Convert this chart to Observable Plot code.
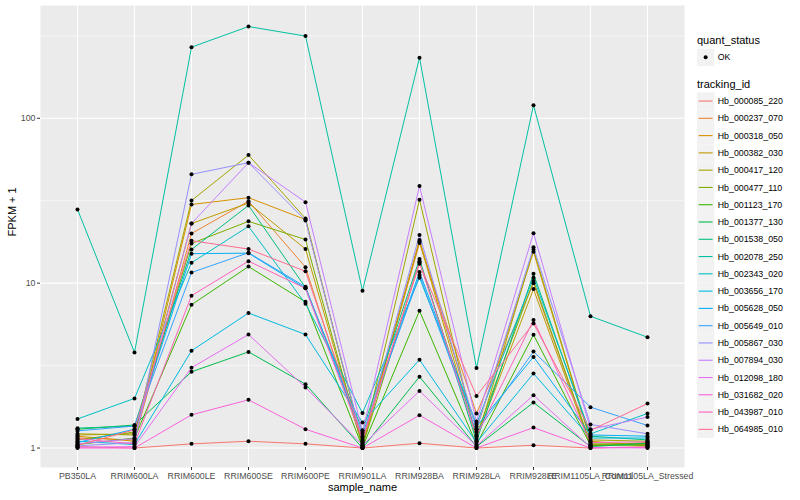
<!DOCTYPE html>
<html><head><meta charset="utf-8">
<script src="https://cdn.jsdelivr.net/npm/d3@7"></script>
<script src="https://cdn.jsdelivr.net/npm/@observablehq/plot@0.6"></script>
<style>
body{margin:0;background:#fff;}
#wrap{position:relative;width:800px;height:500px;}
</style></head><body><div id="wrap"></div>
<script>
const samples = ["PB350LA","RRIM600LA","RRIM600LE","RRIM600SE","RRIM600PE","RRIM901LA","RRIM928BA","RRIM928LA","RRIM928LE","RRIM1105LA_Control","RRIM1105LA_Stressed"];
const trackingIds = ["Hb_000085_220","Hb_000237_070","Hb_000318_050","Hb_000382_030","Hb_000417_120","Hb_000477_110","Hb_001123_170","Hb_001377_130","Hb_001538_050","Hb_002078_250","Hb_002343_020","Hb_003656_170","Hb_005628_050","Hb_005649_010","Hb_005867_030","Hb_007894_030","Hb_012098_180","Hb_031682_020","Hb_043987_010","Hb_064985_010"];
const palette = ["#F8766D","#EA8331","#D89000","#C09B00","#A3A500","#7CAE00","#39B600","#00BB4E","#00BF7D","#00C1A3","#00BFC4","#00BAE0","#00B0F6","#35A2FF","#9590FF","#C77CFF","#E76BF3","#FA62DB","#FF62BC","#FF6C91"];
// FPKM + 1, one row per tracking_id, one column per sample
const fpkmPlus1 = [
  [1.02, 1.00, 1.06, 1.10, 1.06, 1.00, 1.07, 1.00, 1.04, 1.00, 1.02],
  [1.15, 1.12, 20.0, 31.4, 12.5, 1.05, 17.5, 1.62, 10.0, 1.05, 1.05],
  [1.18, 1.10, 30.0, 33.0, 24.3, 1.08, 18.3, 1.30, 15.5, 1.10, 1.03],
  [1.20, 1.22, 23.0, 30.6, 16.1, 1.03, 17.9, 1.15, 9.2, 1.03, 1.08],
  [1.22, 1.20, 31.7, 59.8, 24.7, 1.06, 32.1, 1.12, 16.0, 1.12, 1.10],
  [1.12, 1.25, 17.4, 23.7, 18.4, 1.02, 13.6, 1.20, 10.3, 1.06, 1.06],
  [1.05, 1.15, 7.4, 12.6, 7.7, 1.01, 6.8, 1.05, 4.86, 1.04, 1.04],
  [1.30, 1.38, 2.90, 3.83, 2.44, 1.00, 2.71, 1.02, 1.89, 1.02, 1.07],
  [1.32, 1.36, 16.0, 29.6, 9.4, 1.28, 14.0, 1.10, 11.4, 1.18, 1.12],
  [28, 3.8, 270, 360, 315, 9.0, 233, 3.06, 120, 6.3, 4.7],
  [1.50, 2.00, 13.3, 22.1, 7.5, 1.63, 10.8, 1.40, 10.8, 1.22, 1.62],
  [1.10, 1.05, 3.89, 6.59, 4.88, 1.43, 3.43, 1.08, 2.83, 1.15, 1.15],
  [1.08, 1.30, 15.1, 15.2, 9.3, 1.18, 11.7, 1.35, 3.57, 1.20, 1.18],
  [1.27, 1.36, 11.6, 15.3, 9.5, 1.22, 11.2, 1.25, 3.85, 1.77, 1.37],
  [1.03, 1.08, 45.7, 53.8, 24.0, 1.10, 19.6, 1.30, 16.5, 1.39, 1.22],
  [1.06, 1.14, 23.0, 53.8, 31.0, 1.25, 38.8, 1.45, 20.1, 1.30, 1.54],
  [1.01, 1.02, 3.07, 4.88, 2.33, 1.04, 2.22, 1.03, 2.09, 1.01, 1.00],
  [1.00, 1.00, 1.59, 1.96, 1.30, 1.00, 1.58, 1.00, 1.33, 1.00, 1.01],
  [1.14, 1.06, 8.4, 13.6, 9.3, 1.12, 13.4, 1.18, 5.97, 1.08, 1.09],
  [1.04, 1.29, 18.1, 16.1, 11.8, 1.15, 13.1, 2.07, 5.7, 1.28, 1.86]
];
const quantStatus = ["OK"];
const yTicks = [1, 10, 100];
const yMinor = [3.1623, 31.623, 316.23];
const yDomain = [0.762, 483];

const rows = [];
trackingIds.forEach((id, i) => samples.forEach((s, j) =>
  rows.push({tracking_id: id, sample_name: s, value: fpkmPlus1[i][j], quant_status: quantStatus[0]})));

const FONT = "'Liberation Sans', Arial, Helvetica, sans-serif";
const plot = Plot.plot({
  width: 800, height: 500,
  marginLeft: 40, marginRight: 116, marginTop: 5, marginBottom: 33,
  style: {fontFamily: FONT, fontSize: "8.8px", color: "#4D4D4D", background: "white"},
  x: {type: "point", domain: samples, padding: 0.6, label: null},
  y: {type: "log", domain: yDomain, label: null},
  color: {domain: trackingIds, range: palette},
  marks: [
    Plot.frame({fill: "#EBEBEB", stroke: null}),
    Plot.gridY(yMinor, {stroke: "white", strokeOpacity: 1, strokeWidth: 0.55}),
    Plot.gridY(yTicks, {stroke: "white", strokeOpacity: 1, strokeWidth: 1.1}),
    Plot.gridX(samples, {stroke: "white", strokeOpacity: 1, strokeWidth: 1.1}),
    Plot.line(rows, {x: "sample_name", y: "value", z: "tracking_id", stroke: "tracking_id", strokeWidth: 1}),
    Plot.dot(rows, {x: "sample_name", y: "value", r: 2, fill: "black", stroke: null}),
    Plot.axisY(yTicks, {tickFormat: d => String(d), tickSize: 3, tickPadding: 2, stroke: "#333333", fill: "#4D4D4D", label: null, fontSize: 8.8}),
    Plot.axisX(samples, {tickSize: 3, tickPadding: 2, stroke: "#333333", fill: "#4D4D4D", label: null, fontSize: 8.8}),
    Plot.text(["FPKM + 1"], {frameAnchor: "left", dx: -28, rotate: -90, fontSize: 11, fill: "black", text: d => d}),
    Plot.text(["sample_name"], {frameAnchor: "bottom", dy: 23, fontSize: 11, fill: "black", text: d => d})
  ]
});
document.getElementById("wrap").appendChild(plot);

// legend (drawn into the same svg, on the right)
const colorScale = plot.scale("color");
const svg = d3.select(plot);
const lg = svg.append("g").attr("font-family", FONT).attr("text-anchor", "start");
const LX = 697, KEY = 17.28;
lg.append("text").attr("x", LX).attr("y", 40).attr("dy", "0.35em").attr("font-size", 11).attr("fill", "black").text("quant_status");
quantStatus.forEach((q, i) => {
  const y0 = 48.7 + i * KEY;
  lg.append("rect").attr("x", LX).attr("y", y0).attr("width", KEY).attr("height", KEY).attr("fill", "#F2F2F2");
  lg.append("circle").attr("cx", LX + KEY / 2).attr("cy", y0 + KEY / 2).attr("r", 2).attr("fill", "black");
  lg.append("text").attr("x", LX + KEY + 3.5).attr("y", y0 + KEY / 2).attr("dy", "0.35em").attr("font-size", 8.8).attr("fill", "black").text(q);
});
lg.append("text").attr("x", LX).attr("y", 84.3).attr("dy", "0.35em").attr("font-size", 11).attr("fill", "black").text("tracking_id");
colorScale.domain.forEach((id, i) => {
  const y0 = 92.4 + i * KEY;
  lg.append("rect").attr("x", LX).attr("y", y0).attr("width", KEY).attr("height", KEY).attr("fill", "#F2F2F2");
  lg.append("line").attr("x1", LX + 1.7).attr("x2", LX + KEY - 1.7).attr("y1", y0 + KEY / 2).attr("y2", y0 + KEY / 2)
    .attr("stroke", colorScale.apply(id)).attr("stroke-width", 1.1);
  lg.append("text").attr("x", LX + KEY + 3.5).attr("y", y0 + KEY / 2).attr("dy", "0.35em").attr("font-size", 8.8).attr("fill", "black").text(id);
});
</script></body></html>
